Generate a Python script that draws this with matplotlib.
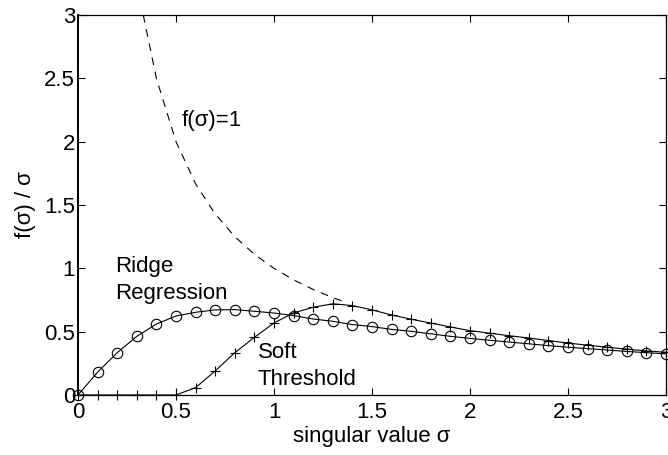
import matplotlib
matplotlib.use("Agg")
import matplotlib.pyplot as plt

sigma = [0.0, 0.1, 0.2, 0.3, 0.4, 0.5, 0.6, 0.7, 0.8, 0.9, 1.0,
         1.1, 1.2, 1.3, 1.4, 1.5, 1.6, 1.7, 1.8, 1.9, 2.0,
         2.1, 2.2, 2.3, 2.4, 2.5, 2.6, 2.7, 2.8, 2.9, 3.0]
ridge = [0.0, 0.18, 0.334, 0.463, 0.56, 0.624, 0.653, 0.672, 0.674, 0.661, 0.647,
         0.627, 0.60, 0.582, 0.556, 0.54, 0.518, 0.503, 0.483, 0.463, 0.447,
         0.432, 0.418, 0.404, 0.39, 0.377, 0.366, 0.355, 0.344, 0.334, 0.325]
soft = [0.0, 0.0, 0.0, 0.0, 0.0, 0.0, 0.058, 0.19, 0.334, 0.455, 0.569,
        0.648, 0.693, 0.72, 0.706, 0.672, 0.632, 0.598, 0.568, 0.537, 0.508,
        0.488, 0.468, 0.45, 0.43, 0.41, 0.393, 0.377, 0.362, 0.348, 0.337]
sigma_unit = [0.333, 0.4, 0.5, 0.6, 0.7, 0.8, 0.9, 1.0, 1.1, 1.2, 1.3, 1.35]
unit_gain = [3.0, 2.5, 2.0, 1.667, 1.429, 1.25, 1.111, 1.0, 0.909, 0.833, 0.769, 0.741]

xticks = [0, 0.5, 1, 1.5, 2, 2.5, 3]
xticklabels = ["0", "0.5", "1", "1.5", "2", "2.5", "3"]
yticks = [0, 0.5, 1, 1.5, 2, 2.5, 3]
yticklabels = ["0", "0.5", "1", "1.5", "2", "2.5", "3"]

plt.rcParams['font.family'] = ['Liberation Sans', 'DejaVu Sans']
FS = 16

fig = plt.figure(figsize=(6.68, 4.55), dpi=100)
ax = fig.add_axes([78/668, 1-395/455, (666-78)/668, (395-15)/455])

ax.plot(sigma_unit, unit_gain, color='black', lw=0.8, linestyle=(0, (7, 6)))
ax.plot(sigma, ridge, color='black', lw=0.8, marker='o', markersize=7.5,
        markerfacecolor='none', markeredgewidth=0.8, clip_on=False)
ax.plot(sigma, soft, color='black', lw=0.8, marker='+', markersize=7.5,
        markeredgewidth=0.8, clip_on=False)

ax.set_xlim(0, 3)
ax.set_ylim(0, 3)
ax.set_xticks(xticks)
ax.set_xticklabels(xticklabels)
ax.set_yticks(yticks)
ax.set_yticklabels(yticklabels)
ax.tick_params(direction='in', length=5, width=0.8, top=True, right=True,
               labelsize=FS)
ax.tick_params(axis='x', pad=5)
ax.tick_params(axis='y', pad=2)
for s in ax.spines.values():
    s.set_linewidth(0.9)
ax.spines['left'].set_linewidth(1.4)

ax.set_xlabel("singular value σ", fontsize=FS, labelpad=2)
ax.set_ylabel("f(σ) / σ", fontsize=FS, labelpad=6)

ax.text(0.53, 2.17, "f(σ)=1", fontsize=FS, ha='left', va='center')
ax.text(0.19, 0.971, "Ridge", fontsize=FS, ha='left', va='baseline')
ax.text(0.19, 0.758, "Regression", fontsize=FS, ha='left', va='baseline')
ax.text(0.917, 0.29, "Soft", fontsize=FS, ha='left', va='baseline')
ax.text(0.917, 0.079, "Threshold", fontsize=FS, ha='left', va='baseline')

fig.savefig("out.png", dpi=100)
